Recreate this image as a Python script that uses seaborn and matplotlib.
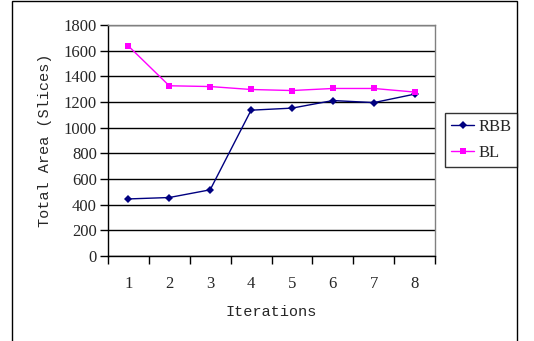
import numpy as np
import pandas as pd
import seaborn as sns
import matplotlib.pyplot as plt
from matplotlib.patches import Rectangle

sns.set_style("white")
plt.rcParams['font.family'] = ['Liberation Serif', 'DejaVu Serif']

iterations = [1, 2, 3, 4, 5, 6, 7, 8]
rbb = [445, 456, 516, 1136, 1152, 1211, 1195, 1261]
bl = [1636, 1326, 1320, 1297, 1289, 1305, 1305, 1277]

df = pd.DataFrame({
    'Iteration': iterations * 2,
    'Area': rbb + bl,
    'Method': ['RBB'] * 8 + ['BL'] * 8,
})
# categories sit in the middle of each bin, like Excel
df['pos'] = df['Iteration'] - 0.5

fig = plt.figure(figsize=(5.34, 3.41), dpi=100)
ax = fig.add_axes([0.202, 0.249, 0.613, 0.678])

sns.lineplot(data=df, x='pos', y='Area', hue='Method', style='Method',
             palette={'RBB': '#000080', 'BL': '#FF00FF'},
             markers={'RBB': 'D', 'BL': 's'}, dashes=False,
             markersize=5, linewidth=1, markeredgewidth=0, ax=ax, legend=False)
ax.lines[0].set_markersize(4)

ax.set_xlim(0, 8)
ax.set_ylim(0, 1800)
ax.set_yticks(np.arange(0, 1801, 200))
ax.yaxis.grid(True, color='black', linewidth=1)
ax.set_xticks(np.arange(0, 9))
ax.set_xticklabels([])
ax.set_xticks(np.array(iterations) - 0.5, minor=True)
ax.set_xticklabels([str(i) for i in iterations], minor=True)
ax.tick_params(axis='x', which='major', bottom=True, direction='out', length=6, width=1, color='black')
ax.tick_params(axis='x', which='minor', bottom=False, length=0, pad=14, labelsize=12)
ax.tick_params(axis='y', left=True, direction='out', length=6, width=1, color='black', labelsize=12, pad=2)

for s in ['top', 'right']:
    ax.spines[s].set_color('#808080')
    ax.spines[s].set_linewidth(1)
for s in ['left', 'bottom']:
    ax.spines[s].set_color('black')
    ax.spines[s].set_linewidth(1)

ax.set_xlabel('Iterations', family=['Liberation Mono'], fontsize=11, labelpad=10)
ax.set_ylabel('Total Area (Slices)', family=['Liberation Mono'], fontsize=11, labelpad=8)

leg = fig.legend(handles=[ax.lines[0], ax.lines[1]], labels=['RBB', 'BL'],
                 loc='upper left', bbox_to_anchor=(445 / 534, 1 - 113 / 341),
                 frameon=True, fancybox=False, fontsize=12, handlelength=1.4,
                 borderpad=0.35, labelspacing=0.6, handletextpad=0.25,
                 borderaxespad=0)
leg.get_frame().set_edgecolor('black')
leg.get_frame().set_linewidth(1)

fig.patches.append(Rectangle((12 / 534, -0.1), (517 - 12) / 534, 1.098,
                             transform=fig.transFigure, fill=False,
                             edgecolor='black', linewidth=1))

fig.savefig('out.png', dpi=100)
